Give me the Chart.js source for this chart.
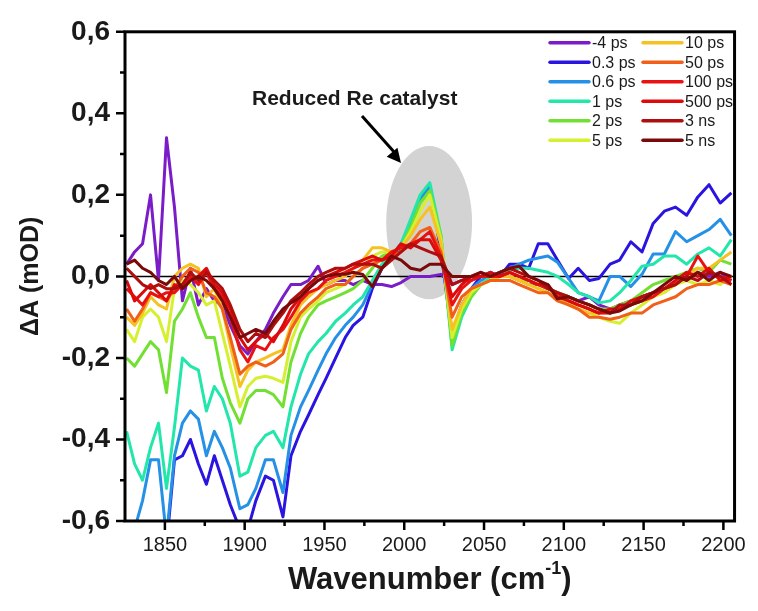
<!DOCTYPE html>
<html><head><meta charset="utf-8">
<script src="https://cdn.jsdelivr.net/npm/chart.js@4/dist/chart.umd.min.js"></script>
<style>html,body{margin:0;padding:0;background:#fff;}#wrap{width:758px;height:611px;}</style>
</head><body><div id="wrap"><canvas id="c" width="758" height="611"></canvas></div>
<script>
// ---- data ----
const wavenumbers = [1826,1831,1836,1841,1846,1851,1856,1861,1866,1871,1876,1881,1886,
 1891,1897,1902,1907,1913,1918,1924,1929,1935,1940,1946,1951,1957,
 1963,1968,1974,1980,1986,1992,1998,2004,2010,2016,2023,2030,2036,
 2042,2048,2054,2060,2066,2072,2078,2084,2090,2096,2103,2109,2116,
 2122,2129,2135,2142,2149,2156,2163,2170,2177,2184,2191,2198,2205];

const seriesLabels = ['-4 ps','0.3 ps','0.6 ps','1 ps','2 ps','5 ps','10 ps','50 ps','100 ps','500 ps','3 ns','5 ns'];
const seriesColors = ['#7a1cc8','#2a14e0','#2490e6','#22e6aa','#72e032','#d6f030','#f6c222','#f06018','#e81212','#dc0a0a','#b00e0e','#7a0a0a'];

const dA_m4ps = [0.03,0.06,0.08,0.20,-0.01,0.34,0.17,-0.06,0.02,-0.07,-0.03,-0.06,-0.07,
 -0.12,-0.17,-0.19,-0.16,-0.13,-0.09,-0.05,-0.02,-0.02,-0.01,0.025,-0.02,-0.01,
 -0.01,-0.02,-0.01,-0.02,-0.02,-0.025,-0.015,0.0,0.0,0.0,0.005,-0.02,-0.01,
 -0.01,0.0,0.0,0.01,0.0,-0.01,-0.02,-0.02,-0.03,-0.04,-0.05,-0.06,-0.05,
 -0.07,-0.08,-0.07,-0.06,-0.05,-0.04,-0.03,-0.02,0.0,0.01,0.0,0.01,-0.01];
const dA_0p3ps = [-0.64,-0.62,-0.63,-0.65,-0.65,-0.66,-0.45,-0.44,-0.40,-0.46,-0.51,-0.44,-0.50,
 -0.56,-0.62,-0.62,-0.55,-0.49,-0.50,-0.59,-0.44,-0.38,-0.34,-0.29,-0.25,-0.20,
 -0.15,-0.12,-0.10,-0.03,0.02,0.05,0.07,0.12,0.19,0.22,0.06,-0.14,-0.07,
 -0.03,0.0,0.01,0.0,0.03,0.03,0.02,0.08,0.08,0.04,-0.005,0.02,-0.01,
 -0.005,0.03,0.04,0.085,0.06,0.13,0.16,0.17,0.15,0.195,0.225,0.18,0.205];
const dA_0p6ps = [-0.65,-0.62,-0.55,-0.45,-0.45,-0.64,-0.44,-0.36,-0.33,-0.35,-0.44,-0.38,-0.42,
 -0.47,-0.57,-0.56,-0.52,-0.45,-0.45,-0.53,-0.39,-0.32,-0.28,-0.23,-0.19,-0.15,
 -0.12,-0.10,-0.07,-0.02,0.02,0.05,0.08,0.13,0.19,0.22,0.08,-0.16,-0.07,
 -0.03,-0.01,0.0,0.01,0.02,0.03,0.04,0.045,0.05,0.035,-0.005,-0.04,-0.05,
 -0.06,0.0,0.0,-0.025,0.005,0.055,0.055,0.11,0.085,0.10,0.115,0.14,0.10];
const dA_1ps = [-0.38,-0.46,-0.50,-0.42,-0.36,-0.52,-0.37,-0.20,-0.22,-0.23,-0.33,-0.27,-0.30,
 -0.36,-0.49,-0.48,-0.42,-0.39,-0.38,-0.42,-0.32,-0.24,-0.19,-0.16,-0.14,-0.11,
 -0.09,-0.07,-0.05,-0.01,0.03,0.05,0.08,0.14,0.20,0.23,0.10,-0.18,-0.10,
 -0.05,-0.02,0.0,0.01,0.015,0.02,0.02,0.015,0.01,0.0,-0.02,-0.04,-0.05,
 -0.065,-0.06,-0.04,-0.01,0.025,0.03,0.05,0.05,0.03,0.055,0.07,0.05,0.09];
const dA_2ps = [-0.20,-0.22,-0.19,-0.16,-0.18,-0.285,-0.11,-0.08,-0.04,-0.10,-0.15,-0.15,-0.25,
 -0.31,-0.36,-0.30,-0.28,-0.28,-0.29,-0.32,-0.21,-0.14,-0.10,-0.07,-0.06,-0.05,
 -0.04,-0.03,-0.01,0.02,0.05,0.06,0.07,0.12,0.18,0.21,0.10,-0.17,-0.09,
 -0.05,-0.02,-0.01,0.0,0.0,-0.01,-0.01,-0.02,-0.03,-0.04,-0.05,-0.06,-0.07,
 -0.08,-0.08,-0.07,-0.06,-0.04,-0.02,-0.01,0.0,0.01,0.02,0.01,0.04,0.03];
const dA_5ps = [-0.13,-0.16,-0.10,-0.08,-0.10,-0.16,-0.03,-0.01,-0.02,-0.04,-0.07,-0.06,-0.14,
 -0.22,-0.32,-0.27,-0.25,-0.245,-0.25,-0.26,-0.16,-0.10,-0.08,-0.06,-0.04,-0.03,
 -0.02,0.0,0.02,0.05,0.06,0.06,0.07,0.11,0.16,0.20,0.09,-0.15,-0.08,
 -0.04,-0.02,-0.01,0.0,0.0,-0.01,-0.02,-0.03,-0.04,-0.05,-0.06,-0.08,-0.09,
 -0.10,-0.11,-0.115,-0.09,-0.07,-0.05,-0.04,-0.02,-0.01,-0.02,-0.01,-0.02,0.0];
const dA_10ps = [-0.10,-0.12,-0.09,-0.05,-0.07,-0.08,0.0,0.02,0.03,0.02,-0.05,-0.03,-0.08,
 -0.17,-0.27,-0.23,-0.21,-0.20,-0.19,-0.18,-0.12,-0.07,-0.05,-0.03,-0.02,-0.01,
 0.0,0.02,0.04,0.07,0.07,0.06,0.07,0.10,0.14,0.17,0.08,-0.13,-0.07,
 -0.03,-0.02,-0.01,0.0,0.0,-0.01,-0.02,-0.03,-0.04,-0.05,-0.07,-0.08,-0.09,
 -0.09,-0.09,-0.08,-0.07,-0.06,-0.04,-0.03,-0.02,0.0,0.02,0.02,0.04,0.06];
const dA_50ps = [-0.08,-0.11,-0.08,-0.04,-0.05,-0.06,-0.03,0.0,0.02,0.01,-0.04,-0.05,-0.08,
 -0.15,-0.24,-0.22,-0.21,-0.22,-0.21,-0.19,-0.13,-0.09,-0.07,-0.05,-0.03,-0.02,
 -0.02,0.0,0.02,0.03,0.04,0.05,0.06,0.08,0.11,0.12,0.06,-0.10,-0.05,
 -0.03,-0.02,-0.01,-0.01,-0.01,-0.02,-0.03,-0.04,-0.04,-0.06,-0.07,-0.08,-0.10,
 -0.10,-0.105,-0.10,-0.09,-0.09,-0.07,-0.06,-0.05,-0.03,-0.02,-0.02,-0.01,-0.02];
const dA_100ps = [-0.03,-0.05,-0.07,-0.04,-0.05,-0.04,-0.04,-0.02,0.0,-0.02,0.01,-0.03,-0.05,
 -0.10,-0.18,-0.21,-0.17,-0.18,-0.15,-0.13,-0.10,-0.06,-0.04,-0.03,-0.01,0.0,
 0.01,0.02,0.03,0.04,0.04,0.06,0.07,0.08,0.09,0.11,0.05,-0.07,-0.03,
 -0.01,0.0,0.0,0.0,0.01,0.0,-0.01,-0.02,-0.03,-0.04,-0.06,-0.07,-0.08,
 -0.09,-0.09,-0.08,-0.07,-0.06,-0.05,-0.03,-0.02,0.0,0.05,0.01,0.0,-0.01];
const dA_500ps = [-0.01,-0.06,-0.04,-0.02,-0.04,-0.06,-0.02,-0.03,-0.01,0.0,0.02,-0.02,-0.04,
 -0.08,-0.15,-0.18,-0.16,-0.14,-0.16,-0.12,-0.08,-0.05,-0.03,-0.01,0.0,0.01,
 0.02,0.03,0.04,0.05,0.04,0.05,0.08,0.07,0.09,0.09,0.04,-0.05,-0.02,
 0.0,0.0,0.01,0.0,0.01,0.0,-0.01,-0.02,-0.02,-0.05,-0.06,-0.07,-0.08,
 -0.09,-0.08,-0.08,-0.06,-0.05,-0.04,-0.03,-0.01,0.01,0.0,0.02,-0.01,0.0];
const dA_3ns = [0.02,0.0,-0.02,-0.03,-0.02,-0.03,-0.03,-0.02,0.01,-0.01,0.01,-0.01,-0.03,
 -0.07,-0.13,-0.16,-0.14,-0.15,-0.12,-0.09,-0.06,-0.04,-0.02,0.0,0.01,0.02,
 0.02,0.03,0.03,0.03,0.02,0.04,0.06,0.08,0.07,0.06,0.05,-0.02,-0.01,
 0.0,0.01,0.0,0.01,0.02,0.01,0.0,-0.01,-0.03,-0.04,-0.05,-0.06,-0.07,
 -0.08,-0.09,-0.07,-0.07,-0.05,-0.04,-0.03,-0.02,0.0,-0.01,0.01,0.0,-0.02];
const dA_5ns = [0.03,0.04,0.02,0.01,-0.01,-0.02,0.0,-0.03,-0.01,0.0,-0.01,-0.03,-0.06,
 -0.10,-0.15,-0.14,-0.13,-0.14,-0.11,-0.08,-0.065,-0.05,-0.03,-0.01,0.0,0.005,
 0.005,0.01,0.005,-0.025,0.02,0.05,0.04,0.02,0.015,0.03,0.03,0.0,0.0,
 0.0,0.01,0.0,0.01,0.02,0.025,0.0,-0.01,-0.02,-0.055,-0.05,-0.06,-0.07,
 -0.08,-0.09,-0.085,-0.07,-0.06,-0.04,-0.02,0.0,-0.01,0.01,-0.01,0.01,0.0];

const seriesValues = [dA_m4ps,dA_0p3ps,dA_0p6ps,dA_1ps,dA_2ps,dA_5ps,dA_10ps,dA_50ps,dA_100ps,dA_500ps,dA_3ns,dA_5ns];

const xMajorTicks = [1850,1900,1950,2000,2050,2100,2150,2200];
const xMinorTicks = [1875,1925,1975,2025,2075,2125,2175];
const yMajorTicks = [-0.6,-0.4,-0.2,0.0,0.2,0.4,0.6];
const yMinorTicks = [-0.5,-0.3,-0.1,0.1,0.3,0.5];
const xRange = [1825, 2207];
const yRange = [-0.6, 0.6];

// highlighted region (data units): centre and half-axes
const highlightCentre = [2015.6, 0.132];
const highlightHalfAxes = [26.9, 0.188];

const FONT = "'Liberation Sans', Arial, sans-serif";

const datasets = seriesLabels.map((lab, i) => ({
  label: lab,
  data: wavenumbers.map((w, j) => ({x: w, y: seriesValues[i][j]})),
  borderColor: seriesColors[i],
  backgroundColor: seriesColors[i],
  borderWidth: 3,
  pointRadius: 0,
  tension: 0,
  fill: false,
  clip: 0,
  borderJoinStyle: 'round',
  order: seriesLabels.length - i
}));

const fmtY = v => (Math.abs(v) < 1e-9 ? 0 : v).toFixed(1).replace('.', ',');

const deco = {
  id: 'deco',
  beforeDatasetsDraw(chart) {
    const {ctx, chartArea: a, scales: {x, y}} = chart;
    ctx.save();
    const cx = x.getPixelForValue(highlightCentre[0]);
    const cy = y.getPixelForValue(highlightCentre[1]);
    const rx = Math.abs(x.getPixelForValue(highlightCentre[0] + highlightHalfAxes[0]) - cx);
    const ry = Math.abs(y.getPixelForValue(highlightCentre[1] + highlightHalfAxes[1]) - cy);
    ctx.fillStyle = '#d3d3d3';
    ctx.beginPath(); ctx.ellipse(cx, cy, rx, ry, 0, 0, Math.PI * 2); ctx.fill();
    const y0 = y.getPixelForValue(0);
    ctx.strokeStyle = '#000'; ctx.lineWidth = 1.5;
    ctx.beginPath(); ctx.moveTo(a.left, y0); ctx.lineTo(a.right, y0); ctx.stroke();
    ctx.restore();
  },
  afterDraw(chart) {
    const {ctx, chartArea: a, scales: {x, y}} = chart;
    ctx.save();
    // frame
    ctx.strokeStyle = '#000'; ctx.lineWidth = 3;
    ctx.strokeRect(a.left, a.top, a.right - a.left, a.bottom - a.top);
    // ticks
    ctx.lineWidth = 2.5;
    ctx.beginPath();
    xMajorTicks.forEach(v => { const px = x.getPixelForValue(v); ctx.moveTo(px, a.bottom); ctx.lineTo(px, a.bottom + 9); });
    xMinorTicks.forEach(v => { const px = x.getPixelForValue(v); ctx.moveTo(px, a.bottom); ctx.lineTo(px, a.bottom + 5); });
    yMajorTicks.forEach(v => { const py = y.getPixelForValue(v); ctx.moveTo(a.left, py); ctx.lineTo(a.left - 9, py); });
    yMinorTicks.forEach(v => { const py = y.getPixelForValue(v); ctx.moveTo(a.left, py); ctx.lineTo(a.left - 5, py); });
    ctx.stroke();

    // axis titles
    ctx.fillStyle = '#1a1a1a';
    ctx.font = 'bold 25px ' + FONT;
    ctx.textAlign = 'center'; ctx.textBaseline = 'middle';
    ctx.save();
    ctx.translate(31, (a.top + a.bottom) / 2);
    ctx.rotate(-Math.PI / 2);
    ctx.fillText('\u0394A (mOD)', 0, 0);
    ctx.restore();

    const t1 = 'Wavenumber (cm', sup = '-1', t2 = ')';
    ctx.font = 'bold 31px ' + FONT;
    const w1 = ctx.measureText(t1).width, w2 = ctx.measureText(t2).width;
    ctx.font = 'bold 18px ' + FONT;
    const ws = ctx.measureText(sup).width;
    const total = w1 + ws + w2;
    let sx = (a.left + a.right) / 2 - total / 2;
    const by = 589;
    ctx.textAlign = 'left'; ctx.textBaseline = 'alphabetic';
    ctx.font = 'bold 31px ' + FONT; ctx.fillText(t1, sx, by);
    ctx.font = 'bold 18px ' + FONT; ctx.fillText(sup, sx + w1, by - 15);
    ctx.font = 'bold 31px ' + FONT; ctx.fillText(t2, sx + w1 + ws, by);

    // annotation
    ctx.font = 'bold 21px ' + FONT;
    ctx.fillText('Reduced Re catalyst', 252, 105);
    ctx.strokeStyle = '#000'; ctx.lineWidth = 3;
    ctx.beginPath(); ctx.moveTo(362, 116); ctx.lineTo(395, 153); ctx.stroke();
    ctx.fillStyle = '#000';
    ctx.beginPath();
    const ang = Math.atan2(163 - 116, 401 - 362);
    const tx = 401, ty = 163, L = 14, W = 7;
    ctx.moveTo(tx, ty);
    ctx.lineTo(tx - L * Math.cos(ang) + W * Math.sin(ang), ty - L * Math.sin(ang) - W * Math.cos(ang));
    ctx.lineTo(tx - L * Math.cos(ang) - W * Math.sin(ang), ty - L * Math.sin(ang) + W * Math.cos(ang));
    ctx.closePath(); ctx.fill();

    // legend (two columns)
    ctx.font = '16px ' + FONT;
    ctx.textBaseline = 'middle';
    seriesLabels.forEach((lab, i) => {
      const col = i < 6 ? 0 : 1, row = i % 6;
      const lx = col === 0 ? 550 : 643;
      const ly = 42.7 + row * 19.5;
      ctx.strokeStyle = seriesColors[i]; ctx.lineWidth = 3.5; ctx.lineCap = 'round';
      ctx.beginPath(); ctx.moveTo(lx, ly); ctx.lineTo(lx + 39, ly); ctx.stroke();
      ctx.fillStyle = '#1a1a1a';
      ctx.fillText(lab, lx + 42, ly + 1);
    });
    ctx.restore();
  }
};

new Chart(document.getElementById('c'), {
  type: 'line',
  data: {datasets},
  options: {
    responsive: false,
    animation: false,
    devicePixelRatio: 1,
    layout: {padding: {top: 25, right: 20, left: 0, bottom: 0}},
    plugins: {legend: {display: false}, tooltip: {enabled: false}},
    scales: {
      x: {
        type: 'linear', min: xRange[0], max: xRange[1],
        grid: {display: false, drawTicks: false},
        border: {display: false},
        afterBuildTicks: s => { s.ticks = xMajorTicks.map(v => ({value: v})); },
        afterFit: s => { s.height = 90; },
        ticks: {padding: 12, color: '#1a1a1a', font: {family: FONT, size: 20}, callback: v => String(v), maxRotation: 0, autoSkip: false}
      },
      y: {
        type: 'linear', min: yRange[0], max: yRange[1],
        grid: {display: false, drawTicks: false},
        border: {display: false},
        afterBuildTicks: s => { s.ticks = yMajorTicks.map(v => ({value: v})); },
        afterFit: s => { s.width = 125; },
        ticks: {padding: 15, color: '#1a1a1a', font: {family: FONT, size: 28, weight: 'bold'}, callback: v => fmtY(v), autoSkip: false}
      }
    }
  },
  plugins: [deco]
});
</script></body></html>
